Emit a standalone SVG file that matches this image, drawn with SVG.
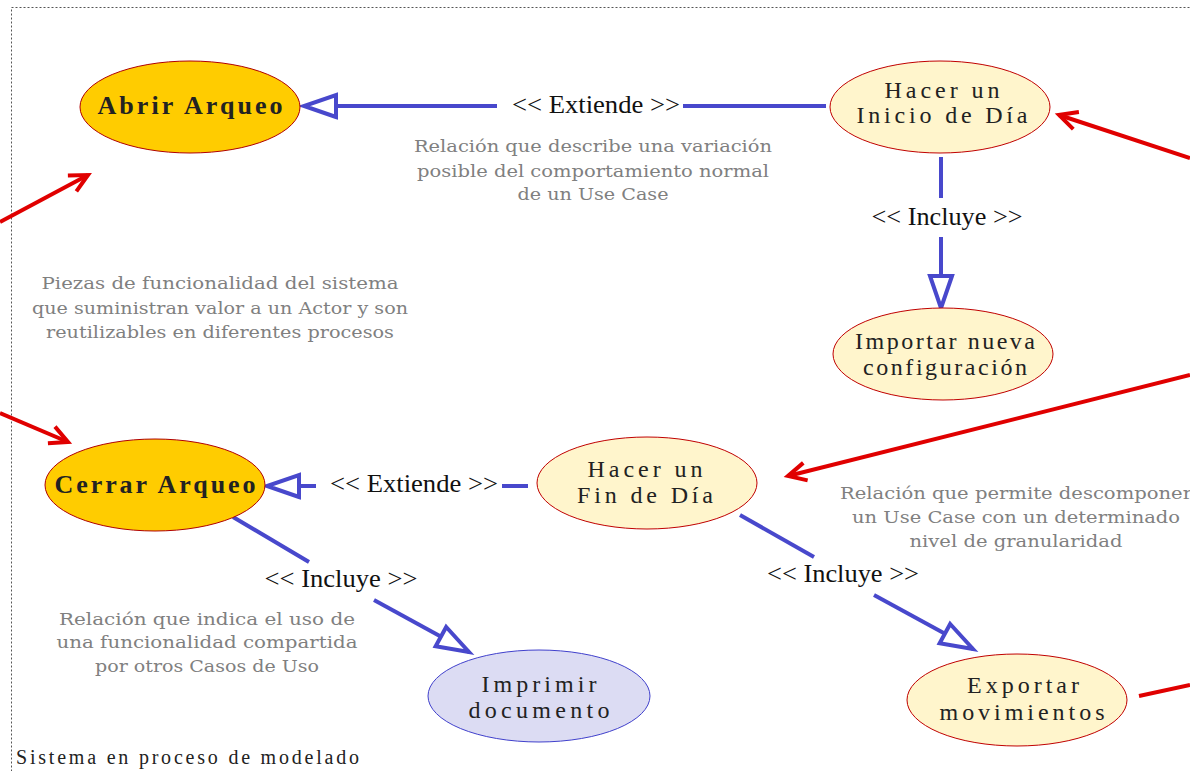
<svg xmlns="http://www.w3.org/2000/svg" width="1190" height="771" viewBox="0 0 1190 771">
<style>
.bg{fill:#ffffff}
.frame{fill:none;stroke:#555;stroke-width:1;stroke-dasharray:2,2}
.gold{fill:#ffcc00;stroke:#b00000;stroke-width:1}
.cream{fill:#fff5cc;stroke:#c00000;stroke-width:1}
.lav{fill:#dcdcf3;stroke:#4040cc;stroke-width:1}
.lbl{font-family:"Liberation Serif",serif;font-size:24px;fill:#222;text-anchor:middle}
.bold{font-family:"Liberation Serif",serif;font-size:26px;font-weight:bold;fill:#222;text-anchor:middle}
.rel{font-family:"Liberation Serif",serif;font-size:26px;fill:#111;text-anchor:middle}
.note{font-family:"DejaVu Serif","Liberation Serif",serif;font-size:17.5px;fill:#808080;text-anchor:middle}
.sys{font-family:"Liberation Serif",serif;font-size:20px;fill:#222}
.blue{fill:none;stroke:#4848cc;stroke-width:4}
.red{fill:none;stroke:#e00000;stroke-width:4}
</style>
<defs>
<marker id="hollow" markerUnits="userSpaceOnUse" markerWidth="40" markerHeight="30" refX="32" refY="12" orient="auto" overflow="visible">
<path d="M0,1 L32,12 L0,23 Z" fill="#ffffff" stroke="#4848cc" stroke-width="4"/>
</marker>
<marker id="open" markerUnits="userSpaceOnUse" markerWidth="24" markerHeight="24" refX="18" refY="9" orient="auto" overflow="visible">
<path d="M0,0 L18,9 L0,18" fill="none" stroke="#e00000" stroke-width="4"/>
</marker>
</defs>
<rect class="bg" x="0" y="0" width="1190" height="771"/>
<rect class="frame" x="11.5" y="7.5" width="1200" height="800"/>

<g id="connectors">
<path class="blue" d="M826,106 L683,106"/>
<path class="blue" d="M497,106 L304,106" marker-end="url(#hollow)"/>
<path class="blue" d="M941,157 L941,198"/>
<path class="blue" d="M941,237 L941,308" marker-end="url(#hollow)"/>
<path class="blue" d="M316,486 L267,486" marker-end="url(#hollow)"/>
<path class="blue" d="M528,486 L502,486"/>
<path class="blue" d="M233,517 L309,562"/>
<path class="blue" d="M374,600 L469,652" marker-end="url(#hollow)"/>
<path class="blue" d="M740,515 L814,557"/>
<path class="blue" d="M874,595 L973,649" marker-end="url(#hollow)"/>
<path class="red" d="M0,222 L88,175" marker-end="url(#open)"/>
<path class="red" d="M0,413 L68,442" marker-end="url(#open)"/>
<path class="red" d="M1190,158 L1059,115" marker-end="url(#open)"/>
<path class="red" d="M1190,375 L788,476" marker-end="url(#open)"/>
<path class="red" d="M1139,696 L1190,685"/>
<text class="rel" x="596" y="113" textLength="168" lengthAdjust="spacingAndGlyphs">&lt;&lt; Extiende &gt;&gt;</text>
<text class="rel" x="947" y="225" textLength="151" lengthAdjust="spacingAndGlyphs">&lt;&lt; Incluye &gt;&gt;</text>
<text class="rel" x="414" y="492" textLength="168" lengthAdjust="spacingAndGlyphs">&lt;&lt; Extiende &gt;&gt;</text>
<text class="rel" x="341" y="587" textLength="153" lengthAdjust="spacingAndGlyphs">&lt;&lt; Incluye &gt;&gt;</text>
<text class="rel" x="843" y="582" textLength="152" lengthAdjust="spacingAndGlyphs">&lt;&lt; Incluye &gt;&gt;</text>
</g>

<g id="abrir">
<ellipse class="gold" cx="190" cy="107" rx="110" ry="46"/>
<text class="bold" x="190" y="114" textLength="185" lengthAdjust="spacing">Abrir Arqueo</text>
</g>
<g id="inicio">
<ellipse class="cream" cx="940" cy="107" rx="110" ry="46"/>
<text class="lbl" x="942" y="98" textLength="115" lengthAdjust="spacing">Hacer un</text>
<text class="lbl" x="942" y="123" textLength="171" lengthAdjust="spacing">Inicio de Día</text>
</g>
<g id="importar">
<ellipse class="cream" cx="943" cy="354" rx="110" ry="46"/>
<text class="lbl" x="945" y="349" textLength="180" lengthAdjust="spacing">Importar nueva</text>
<text class="lbl" x="945" y="375" textLength="164" lengthAdjust="spacing">configuración</text>
</g>
<g id="cerrar">
<ellipse class="gold" cx="155" cy="485" rx="110" ry="46"/>
<text class="bold" x="155" y="493" textLength="201" lengthAdjust="spacing">Cerrar Arqueo</text>
</g>
<g id="fin">
<ellipse class="cream" cx="647" cy="483" rx="110" ry="46"/>
<text class="lbl" x="645" y="477" textLength="115" lengthAdjust="spacing">Hacer un</text>
<text class="lbl" x="645" y="503" textLength="136" lengthAdjust="spacing">Fin de Día</text>
</g>
<g id="imprimir">
<ellipse class="lav" cx="539" cy="696" rx="111" ry="46"/>
<text class="lbl" x="539" y="692" textLength="115" lengthAdjust="spacing">Imprimir</text>
<text class="lbl" x="539" y="718" textLength="141" lengthAdjust="spacing">documento</text>
</g>
<g id="exportar">
<ellipse class="cream" cx="1017" cy="700" rx="110" ry="46"/>
<text class="lbl" x="1023" y="693" textLength="112" lengthAdjust="spacing">Exportar</text>
<text class="lbl" x="1022" y="720" textLength="165" lengthAdjust="spacing">movimientos</text>
</g>

<g id="notes">
<text class="note" x="593" y="152" textLength="358" lengthAdjust="spacingAndGlyphs">Relación que describe una variación</text>
<text class="note" x="593" y="177" textLength="352" lengthAdjust="spacingAndGlyphs">posible del comportamiento normal</text>
<text class="note" x="593" y="200" textLength="151" lengthAdjust="spacingAndGlyphs">de un Use Case</text>
<text class="note" x="220" y="289" textLength="357" lengthAdjust="spacingAndGlyphs">Piezas de funcionalidad del sistema</text>
<text class="note" x="220" y="314" textLength="376" lengthAdjust="spacingAndGlyphs">que suministran valor a un Actor y son</text>
<text class="note" x="220" y="338" textLength="348" lengthAdjust="spacingAndGlyphs">reutilizables en diferentes procesos</text>
<text class="note" x="207" y="625" textLength="296" lengthAdjust="spacingAndGlyphs">Relación que indica el uso de</text>
<text class="note" x="207" y="648" textLength="301" lengthAdjust="spacingAndGlyphs">una funcionalidad compartida</text>
<text class="note" x="207" y="672" textLength="224" lengthAdjust="spacingAndGlyphs">por otros Casos de Uso</text>
<text class="note" x="1016" y="499" textLength="352" lengthAdjust="spacingAndGlyphs">Relación que permite descomponer</text>
<text class="note" x="1016" y="523" textLength="328" lengthAdjust="spacingAndGlyphs">un Use Case con un determinado</text>
<text class="note" x="1016" y="547" textLength="213" lengthAdjust="spacingAndGlyphs">nivel de granularidad</text>
<text class="sys" x="16" y="764" textLength="343" lengthAdjust="spacing">Sistema en proceso de modelado</text>
</g>
</svg>
